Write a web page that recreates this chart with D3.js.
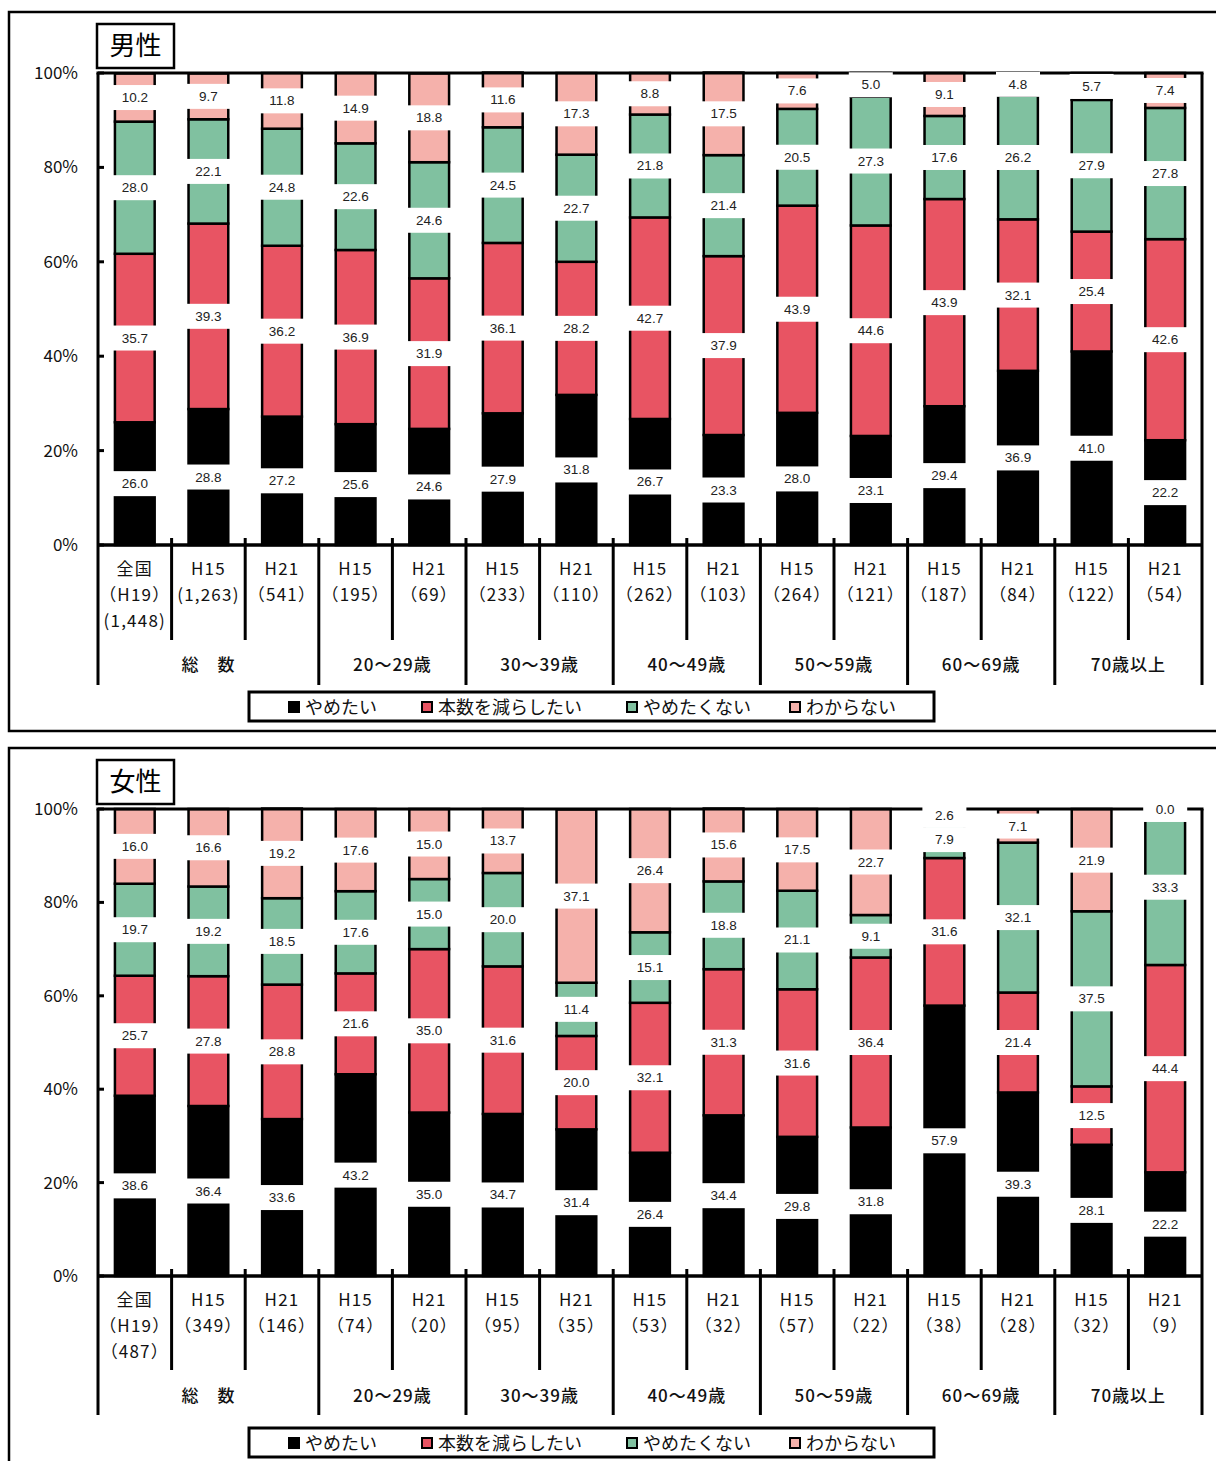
<!DOCTYPE html>
<html><head><meta charset="utf-8">
<script src="https://cdn.jsdelivr.net/npm/d3@7"></script>
<style>body{margin:0;background:#fff}svg{display:block}</style>
</head><body>
<script>
const seriesNames = ["やめたい","本数を減らしたい","やめたくない","わからない"];
const seriesColors = ["#000000","#e85463","#80c1a0","#f5b1ab"];
const catTop = ["全国","H15","H21","H15","H21","H15","H21","H15","H21","H15","H21","H15","H21","H15","H21"];
const groups = ["総　数","20～29歳","30～39歳","40～49歳","50～59歳","60～69歳","70歳以上"];
const groupSpans = [3,2,2,2,2,2,2];
const yTicks = [0,20,40,60,80,100];

const maleN = [["（H19）","(1,448)"],["(1,263)"],["（541）"],["（195）"],["（69）"],["（233）"],["（110）"],["（262）"],["（103）"],["（264）"],["（121）"],["（187）"],["（84）"],["（122）"],["（54）"]];
const maleQuit   = [26.0,28.8,27.2,25.6,24.6,27.9,31.8,26.7,23.3,28.0,23.1,29.4,36.9,41.0,22.2];
const maleReduce = [35.7,39.3,36.2,36.9,31.9,36.1,28.2,42.7,37.9,43.9,44.6,43.9,32.1,25.4,42.6];
const maleKeep   = [28.0,22.1,24.8,22.6,24.6,24.5,22.7,21.8,21.4,20.5,27.3,17.6,26.2,27.9,27.8];
const maleDK     = [10.2, 9.7,11.8,14.9,18.8,11.6,17.3, 8.8,17.5, 7.6, 5.0, 9.1, 4.8, 5.7, 7.4];

const femaleN = [["（H19）","（487）"],["（349）"],["（146）"],["（74）"],["（20）"],["（95）"],["（35）"],["（53）"],["（32）"],["（57）"],["（22）"],["（38）"],["（28）"],["（32）"],["（9）"]];
const femaleQuit   = [38.6,36.4,33.6,43.2,35.0,34.7,31.4,26.4,34.4,29.8,31.8,57.9,39.3,28.1,22.2];
const femaleReduce = [25.7,27.8,28.8,21.6,35.0,31.6,20.0,32.1,31.3,31.6,36.4,31.6,21.4,12.5,44.4];
const femaleKeep   = [19.7,19.2,18.5,17.6,15.0,20.0,11.4,15.1,18.8,21.1, 9.1, 7.9,32.1,37.5,33.3];
const femaleDK     = [16.0,16.6,19.2,17.6,15.0,13.7,37.1,26.4,15.6,17.5,22.7, 2.6, 7.1,21.9, 0.0];

const FONT = "'Noto Sans CJK JP','Noto Sans',sans-serif";
const svg = d3.select("body").append("svg").attr("width",1216).attr("height",1461)
  .style("font-family",FONT);

function panel(cfg){
  const g = svg.append("g");
  g.append("rect").attr("x",9).attr("y",cfg.frameY).attr("width",1230).attr("height",cfg.frameH)
    .attr("fill","none").attr("stroke","#000").attr("stroke-width",2.5);
  g.append("rect").attr("x",97).attr("y",cfg.frameY+12).attr("width",77).attr("height",44)
    .attr("fill","#fff").attr("stroke","#000").attr("stroke-width",2.5);
  g.append("text").attr("x",135.5).attr("y",cfg.frameY+43).attr("text-anchor","middle")
    .attr("font-size",26).attr("font-weight",400).text(cfg.title);

  const L=98,R=1202;
  const x = d3.scaleBand().domain(d3.range(catTop.length)).range([L,R]).paddingInner(0.46).paddingOuter(0.23);
  const y = d3.scaleLinear().domain([0,100]).range([cfg.bottom,cfg.top]);
  const step = x.step();

  const rows = catTop.map((c,i)=>({i, [seriesNames[0]]:cfg.q[i],[seriesNames[1]]:cfg.r[i],[seriesNames[2]]:cfg.k[i],[seriesNames[3]]:cfg.d[i]}));
  const stacked = d3.stack().keys(seriesNames)(rows);

  const yAxis = d3.axisLeft(y).tickValues(yTicks).tickFormat(d=>d+"%").tickSize(0).tickPadding(20);
  const ya = g.append("g").attr("transform",`translate(${L},0)`).call(yAxis);
  ya.select(".domain").remove();
  ya.selectAll("text").attr("font-size",17).attr("fill","#111").attr("font-family",FONT);
  g.selectAll(".yt").data(yTicks).join("line").attr("x1",L).attr("x2",L+6)
    .attr("y1",d=>y(d)).attr("y2",d=>y(d)).attr("stroke","#000").attr("stroke-width",3);

  stacked.forEach((s,si)=>{
    g.append("g").selectAll("rect").data(s).join("rect")
      .attr("x",d=>x(d.data.i)).attr("width",x.bandwidth())
      .attr("y",d=>y(d[1])).attr("height",d=>Math.max(0,y(d[0])-y(d[1])))
      .attr("fill",seriesColors[si]).attr("stroke","#000").attr("stroke-width",2.5);
  });

  g.append("line").attr("x1",L-1.5).attr("x2",R+1.5).attr("y1",cfg.top).attr("y2",cfg.top).attr("stroke","#000").attr("stroke-width",3);
  g.append("line").attr("x1",L).attr("x2",R).attr("y1",cfg.bottom).attr("y2",cfg.bottom).attr("stroke","#000").attr("stroke-width",3.5);
  const groupEdges = new Set([0]); let acc=0; groupSpans.forEach(s=>{acc+=s;groupEdges.add(acc);});
  d3.range(catTop.length+1).forEach(b=>{
    const bx = L + b*step;
    const long = groupEdges.has(b);
    const y1 = (b===0||b===catTop.length)? cfg.top : cfg.bottom-7;
    g.append("line").attr("x1",bx).attr("x2",bx).attr("y1",y1).attr("y2",long?cfg.longEnd:cfg.shortEnd)
      .attr("stroke","#000").attr("stroke-width",3);
  });

  catTop.forEach((c,i)=>{
    const cx = x(i)+x.bandwidth()/2;
    const lines = [c].concat(cfg.n[i]);
    lines.forEach((t,li)=>{
      g.append("text").attr("x",cx).attr("y",cfg.catY+li*26).attr("text-anchor","middle")
        .attr("font-size",17).attr("letter-spacing",1.2).attr("fill","#111").text(t);
    });
  });
  acc=0;
  groups.forEach((gname,gi)=>{
    const x0 = L+acc*step, x1 = L+(acc+groupSpans[gi])*step; acc+=groupSpans[gi];
    g.append("text").attr("x",(x0+x1)/2).attr("y",cfg.groupY).attr("text-anchor","middle")
      .attr("font-size",17).attr("font-weight",500).attr("letter-spacing",1).attr("fill","#111").text(gname);
  });

  stacked.forEach((s,si)=>{
    const lg = g.append("g");
    s.forEach(d=>{
      const cy = (y(d[0])+y(d[1]))/2;
      const cx = x(d.data.i)+x.bandwidth()/2;
      lg.append("rect").attr("x",cx-22).attr("y",cy-12.5).attr("width",44).attr("height",25).attr("fill","#fff");
      lg.append("text").attr("x",cx).attr("y",cy+4.5).attr("text-anchor","middle")
        .attr("font-size",13.5).attr("fill","#222").attr("font-family","'Liberation Sans',Arial,sans-serif")
        .text((d[1]-d[0]).toFixed(1));
    });
  });

  const ly = cfg.legendY;
  g.append("rect").attr("x",249).attr("y",ly).attr("width",685).attr("height",29)
    .attr("fill","#fff").attr("stroke","#000").attr("stroke-width",3);
  const lx = [289,422,627,790];
  seriesNames.forEach((sn,si)=>{
    g.append("rect").attr("x",lx[si]).attr("y",ly+10).attr("width",10).attr("height",10)
      .attr("fill",seriesColors[si]).attr("stroke","#000").attr("stroke-width",2);
    g.append("text").attr("x",lx[si]+16).attr("y",ly+22).attr("font-size",18).attr("fill","#111").text(sn);
  });
}

panel({title:"男性",frameY:12,frameH:719,top:73,bottom:545,catY:575,groupY:671,shortEnd:640,longEnd:685,legendY:692,
  n:maleN,q:maleQuit,r:maleReduce,k:maleKeep,d:maleDK});
panel({title:"女性",frameY:748,frameH:760,top:809,bottom:1276,catY:1306,groupY:1402,shortEnd:1370,longEnd:1415,legendY:1428,
  n:femaleN,q:femaleQuit,r:femaleReduce,k:femaleKeep,d:femaleDK});
</script>
</body></html>
